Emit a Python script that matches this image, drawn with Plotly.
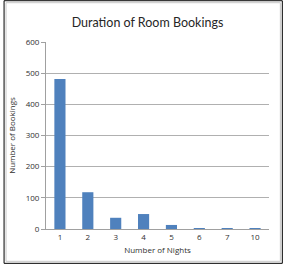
import plotly.graph_objects as go

nights = ["1", "2", "3", "4", "5", "6", "7", "10"]
bookings = [481, 118, 36, 48, 13, 3, 3, 3]
y_ticks = [0, 100, 200, 300, 400, 500, 600]

W, H = 283, 265
ml, mr, mt, mb = 43, 14, 42, 35
pw, ph = W - ml - mr, H - mt - mb

fig = go.Figure(go.Bar(x=nights, y=bookings, marker=dict(color="#4f81bd", line=dict(width=0))))

fig.update_layout(
    width=W, height=H,
    margin=dict(l=ml, r=mr, t=mt, b=mb),
    paper_bgcolor="white", plot_bgcolor="white",
    bargap=0.6,
    showlegend=False,
    title=dict(text="Duration of Room Bookings", x=147.5 / W, xanchor="center",
               y=1 - 22.5 / H, yanchor="middle",
               font=dict(family="Lato", size=12.5, color="#262626")),
    font=dict(family="Open Sans", size=8, color="#303030"),
    xaxis=dict(type="category", showgrid=False, showline=True, linecolor="#a0a0a0",
               linewidth=1, ticks="", tickfont=dict(size=8),
               title=dict(text="Number of Nights", font=dict(size=8), standoff=6)),
    yaxis=dict(range=[0, 600], tickvals=y_ticks, showgrid=True, gridcolor="#b0b0b0",
               gridwidth=1, showline=True, linecolor="#a0a0a0", linewidth=1,
               ticks="outside", ticklen=4, tickcolor="#a0a0a0", zeroline=False,
               tickfont=dict(size=8),
               title=dict(text="Number of Bookings", font=dict(size=8), standoff=8)),
)

# outer frame (black border with light inner border)
fig.add_shape(type="rect", xref="paper", yref="paper",
              x0=(0.5 - ml) / pw, x1=(W - 0.5 - ml) / pw,
              y0=-(mb - 0.5) / ph, y1=(H - 0.5 - mb) / ph,
              line=dict(color="black", width=1), layer="above")
fig.add_shape(type="rect", xref="paper", yref="paper",
              x0=(2.5 - ml) / pw, x1=(W - 2.5 - ml) / pw,
              y0=-(mb - 2.5) / ph, y1=(H - 2.5 - mb) / ph,
              line=dict(color="#c8c8c8", width=1), layer="above")

fig.write_html("out.html")
